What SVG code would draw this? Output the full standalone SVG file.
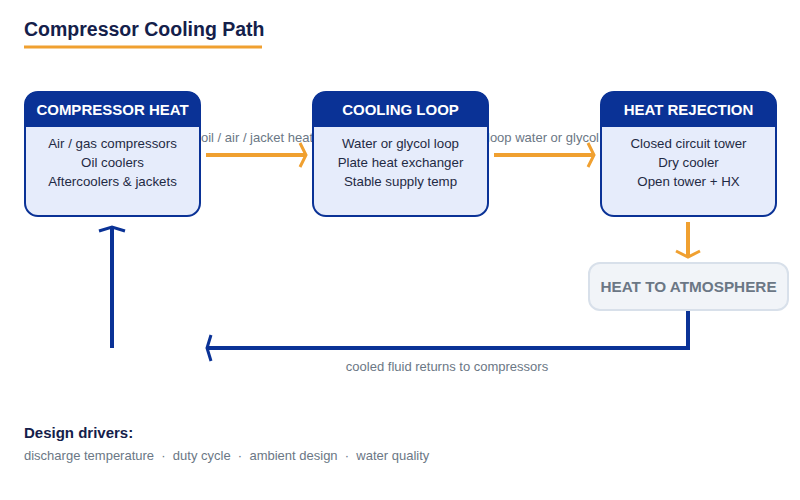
<svg xmlns="http://www.w3.org/2000/svg" width="800" height="500" viewBox="0 0 800 500">
<defs>
<style>
text{font-family:"Liberation Sans",Arial,sans-serif}
.title{font-size:19.500px;font-weight:bold;fill:#14204a}
.hdr{font-size:15px;font-weight:bold;fill:#ffffff;text-anchor:middle}
.body{font-size:13.300px;fill:#1f2a44;text-anchor:middle}
.elab{font-size:13px;fill:#6b7785;text-anchor:middle}
.card{fill:#e6ecfb;stroke:#0a3296;stroke-width:2}
.head{fill:#0a3296}
.orange{stroke:#f0a030;stroke-width:4;fill:none}
.blue{stroke:#0a3296;stroke-width:4;fill:none}
</style>
<marker id="oa" viewBox="0 0 10 28" refX="8" refY="14" markerWidth="10" markerHeight="28" markerUnits="userSpaceOnUse" orient="auto">
<path d="M2,2 L8,14 L2,26" fill="none" stroke="#f0a030" stroke-width="3"/>
</marker>
<marker id="ba" viewBox="0 0 8 28" refX="6" refY="14" markerWidth="8" markerHeight="28" markerUnits="userSpaceOnUse" orient="auto">
<path d="M2,1 L6,14 L2,27" fill="none" stroke="#0a3296" stroke-width="3"/>
</marker>
</defs>
<rect width="800" height="500" fill="#ffffff"/>
<text class="title" x="24" y="36">Compressor Cooling Path</text>
<rect x="24" y="45.500" width="238" height="3" fill="#f0a030"/>

<g id="connectors">
<line class="orange" x1="206" y1="155" x2="306" y2="155" marker-end="url(#oa)"/>
<text class="elab" x="257" y="142">oil / air / jacket heat</text>
<line class="orange" x1="494" y1="155" x2="594" y2="155" marker-end="url(#oa)"/>
<text class="elab" x="543" y="142">loop water or glycol</text>
<line class="orange" x1="688" y1="222" x2="688" y2="257" marker-end="url(#oa)"/>
<polyline class="blue" points="688,310 688,348 207,348" marker-end="url(#ba)"/>
<line class="blue" x1="112" y1="348" x2="112" y2="227" marker-end="url(#ba)"/>
<text class="elab" x="447" y="371">cooled fluid returns to compressors</text>
</g>

<g id="compressor-heat">
<rect class="card" x="25" y="92" width="175" height="124" rx="13"/>
<path class="head" d="M25,127 L25,105 Q25,92 38,92 L187,92 Q200,92 200,105 L200,127 Z"/>
<text class="hdr" x="112.500" y="115">COMPRESSOR HEAT</text>
<text class="body" x="112.500" y="148">Air / gas compressors</text>
<text class="body" x="112.500" y="167">Oil coolers</text>
<text class="body" x="112.500" y="186">Aftercoolers &amp; jackets</text>
</g>

<g id="cooling-loop">
<rect class="card" x="313" y="92" width="175" height="124" rx="13"/>
<path class="head" d="M313,127 L313,105 Q313,92 326,92 L475,92 Q488,92 488,105 L488,127 Z"/>
<text class="hdr" x="400.500" y="115">COOLING LOOP</text>
<text class="body" x="400.500" y="148">Water or glycol loop</text>
<text class="body" x="400.500" y="167">Plate heat exchanger</text>
<text class="body" x="400.500" y="186">Stable supply temp</text>
</g>

<g id="heat-rejection">
<rect class="card" x="601" y="92" width="175" height="124" rx="13"/>
<path class="head" d="M601,127 L601,105 Q601,92 614,92 L763,92 Q776,92 776,105 L776,127 Z"/>
<text class="hdr" x="688.500" y="115">HEAT REJECTION</text>
<text class="body" x="688.500" y="148">Closed circuit tower</text>
<text class="body" x="688.500" y="167">Dry cooler</text>
<text class="body" x="688.500" y="186">Open tower + HX</text>
</g>

<g id="heat-to-atmosphere">
<rect x="589" y="263" width="199" height="47" rx="11" fill="#f1f4f8" stroke="#d8e0ea" stroke-width="2"/>
<text x="688.500" y="292" style="font-size:15.300px;font-weight:bold;fill:#6b7785;text-anchor:middle">HEAT TO ATMOSPHERE</text>
</g>

<g id="design-drivers">
<text x="24" y="438" style="font-size:15px;font-weight:bold;fill:#14204a">Design drivers:</text>
<text x="24" y="460" style="font-size:13px;fill:#6b7785" xml:space="preserve">discharge temperature  ·  duty cycle  ·  ambient design  ·  water quality</text>
</g>
</svg>
